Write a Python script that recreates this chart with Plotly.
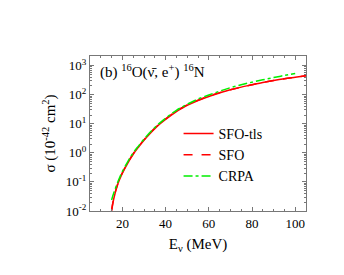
import plotly.graph_objects as go

E_tls = [15, 16, 18, 20, 22.5, 25, 27.5, 30, 32.5, 35, 37.5, 40, 42.5, 45, 47.5, 50, 55, 60, 65, 70, 75, 80, 85, 90, 95, 100, 105]
logs_tls = [-2.0, -1.58, -1.05, -0.70, -0.35, -0.05, 0.2, 0.43, 0.64, 0.83, 1.0, 1.15, 1.29, 1.42, 1.53, 1.63, 1.80, 1.94, 2.06, 2.17, 2.26, 2.34, 2.42, 2.49, 2.55, 2.60, 2.65]

E_sfo = [15, 16, 18, 20, 22.5, 25, 27.5, 30, 32.5, 35, 37.5, 40, 42.5, 45, 47.5, 50, 55, 60, 65, 70, 75, 80, 85, 90, 95, 100, 105]
logs_sfo = [-1.97, -1.56, -1.03, -0.68, -0.33, -0.03, 0.22, 0.45, 0.66, 0.85, 1.02, 1.17, 1.31, 1.44, 1.55, 1.65, 1.81, 1.95, 2.07, 2.17, 2.26, 2.34, 2.42, 2.49, 2.55, 2.60, 2.65]

E_crpa = [15, 16, 18, 20, 22.5, 25, 27.5, 30, 32.5, 35, 37.5, 40, 42.5, 45, 47.5, 50, 55, 60, 65, 70, 75, 80, 85, 90, 95, 100]
logs_crpa = [-1.62, -1.38, -0.98, -0.64, -0.30, 0.0, 0.24, 0.47, 0.68, 0.87, 1.04, 1.19, 1.33, 1.46, 1.57, 1.67, 1.85, 1.99, 2.12, 2.24, 2.34, 2.43, 2.51, 2.59, 2.66, 2.73]

ytick_vals = [0.01, 0.1, 1, 10, 100, 1000]
ytick_text = ["10<sup>-2</sup>", "10<sup>-1</sup>", "10<sup>0</sup>", "10<sup>1</sup>", "10<sup>2</sup>", "10<sup>3</sup>"]
xtick_vals = [20, 40, 60, 80, 100]

font = "'Liberation Serif', 'DejaVu Serif', serif"

fig = go.Figure()
fig.add_trace(go.Scatter(x=E_tls, y=[10**v for v in logs_tls], mode="lines", name="SFO-tls",
                         line=dict(color="#ff0000", width=1.5, shape="spline")))
fig.add_trace(go.Scatter(x=E_sfo, y=[10**v for v in logs_sfo], mode="lines", name="SFO",
                         line=dict(color="#ff0000", width=1.5, dash="dash", shape="spline")))
fig.add_trace(go.Scatter(x=E_crpa, y=[10**v for v in logs_crpa], mode="lines", name="CRPA",
                         line=dict(color="#00ee00", width=1.5, dash="dashdot", shape="spline")))

axis_common = dict(showline=True, linecolor="#777777", linewidth=1, mirror="allticks",
                   ticks="inside", ticklen=4, tickcolor="#777777", showgrid=False, zeroline=False,
                   tickfont=dict(family=font, size=13, color="black"))

fig.update_xaxes(range=[5, 105], tickvals=xtick_vals,
                 minor=dict(ticks="inside", ticklen=2, dtick=5, tickcolor="#777777", showgrid=False),
                 title=dict(text="E<sub>ν</sub> (MeV)", font=dict(family=font, size=15, color="black"), standoff=8),
                 **axis_common)
fig.update_yaxes(type="log", range=[-2, 3.33], tickvals=ytick_vals, ticktext=ytick_text,
                 minor=dict(ticks="inside", ticklen=2, dtick="D1", tickcolor="#777777", showgrid=False),
                 title=dict(text="σ (10<sup>-42</sup> cm<sup>2</sup>)", font=dict(family=font, size=15, color="black"), standoff=6),
                 **axis_common)

fig.add_annotation(xref="paper", yref="paper", x=0.035, y=0.9, xanchor="left", yanchor="middle",
                   text="(b) <sup>16</sup>O(ν\u0304, e<sup>+</sup>) <sup>16</sup>N", showarrow=False,
                   font=dict(family=font, size=15, color="black"))

fig.update_layout(width=344, height=275, margin=dict(l=82, r=46, t=48, b=72),
                  font=dict(family=font, color="black"),
                  plot_bgcolor="white", paper_bgcolor="white",
                  legend=dict(x=0.41, y=0.6, xanchor="left", yanchor="top", bgcolor="rgba(0,0,0,0)",
                              font=dict(family=font, size=14, color="black"), tracegroupgap=0,
                              itemwidth=30))
fig.write_html("out.html")
